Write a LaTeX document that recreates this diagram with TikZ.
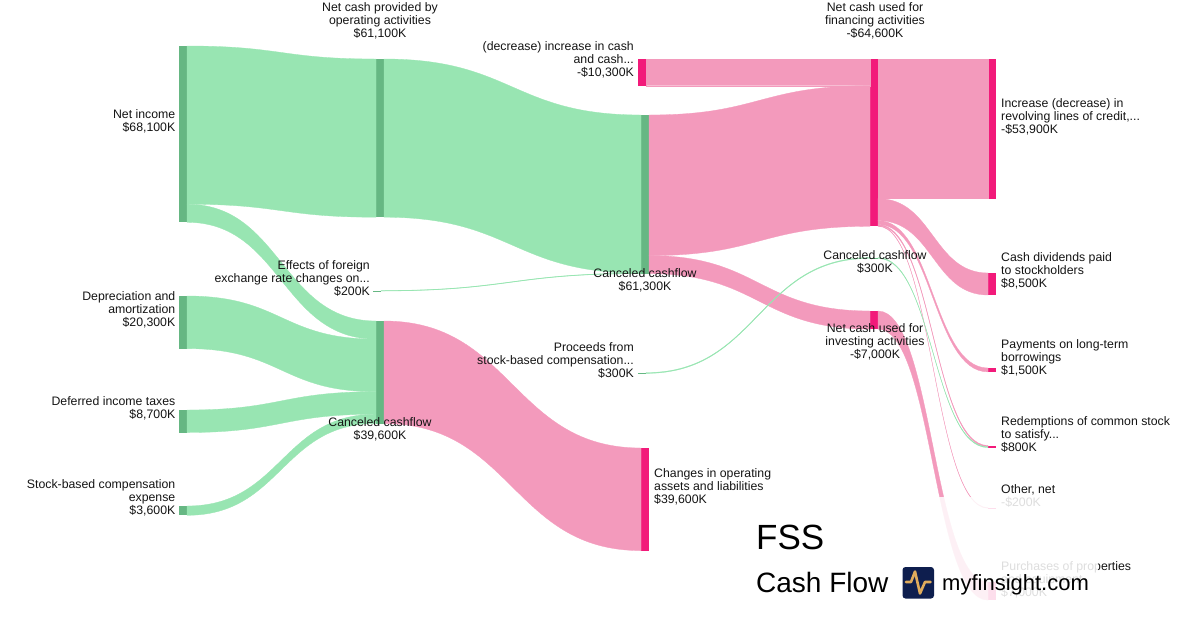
\documentclass[tikz,border=0pt]{standalone}
\usepackage{fontspec}
\setmainfont{Liberation Sans}
\usetikzlibrary{calc}
\definecolor{gflow}{RGB}{152,229,178}
\definecolor{gbar}{RGB}{102,183,131}
\definecolor{pflow}{RGB}{243,154,188}
\definecolor{pbar}{RGB}{242,26,122}
\definecolor{ink}{RGB}{20,20,20}
\definecolor{navy}{RGB}{14,30,78}
\definecolor{gold}{RGB}{224,172,92}
\newcommand{\labfont}{\fontsize{12.3}{13}\selectfont}
\newcommand{\fl}{\rule{0pt}{9.5pt}}
% band: #1 source node, #2 offset in source, #3 target node, #4 offset in target, #5 width, #6 style
\newcommand{\band}[6]{%
  \path ([yshift={-(#2)}]#1.north east) coordinate (bs0)
        ([yshift={-(#2)-(#5)}]#1.north east) coordinate (bs1)
        ([yshift={-(#4)}]#3.north west) coordinate (bt0)
        ([yshift={-(#4)-(#5)}]#3.north west) coordinate (bt1);
  \coordinate (bm) at ($(bs0)!0.5!(bt0)$);
  \filldraw[#6] (bs0) .. controls (bm |- bs0) and (bm |- bt0) .. (bt0)
     -- (bt1) .. controls (bm |- bt1) and (bm |- bs1) .. (bs1) -- cycle;
}
\begin{document}
\begin{tikzpicture}[x=1pt,y=-1pt,
  barbox/.style={rectangle, inner sep=0pt, outer sep=0pt, minimum width=8pt, anchor=north west},
  gb/.style={barbox, fill=gbar},
  pb/.style={barbox, fill=pbar},
  lab/.style={inner sep=0pt, font=\labfont, text=ink},
  labr/.style={lab, anchor=north east, align=right},
  labl/.style={lab, anchor=north west, align=left},
  labc/.style={lab, anchor=north, align=center},
  gf/.style={fill=gflow, draw=gflow, line width=0.3pt},
  pf/.style={fill=pflow, draw=pflow, line width=0.3pt}]
\useasboundingbox (0,0) rectangle (1200,630);

% ---- bars ----
\node[gb, minimum height=176.4pt] (ni)  at (179,46) {};
\node[gb, minimum height=52.6pt]  (dep) at (179,296) {};
\node[gb, minimum height=22.5pt]  (def) at (179,410) {};
\node[gb, minimum height=9.3pt]   (sbc) at (179,506) {};
\node[gb, minimum height=158.2pt] (op)  at (376,59) {};
\node[gb, minimum height=0.5pt]   (fx)  at (373,290.5) {};
\node[gb, minimum height=102.6pt] (c39) at (376,321) {};
\node[pb, minimum height=26.7pt]  (dec) at (638,59) {};
\node[gb, minimum height=158.8pt] (c61) at (641,115) {};
\node[gb, minimum height=0.8pt]   (proc) at (638,372.6) {};
\node[pb, minimum height=102.6pt] (chg) at (641,448) {};
\node[pb, minimum height=167.3pt] (fin) at (870,59) {};
\node[gb, minimum height=0.8pt]   (c300) at (870,257.6) {};
\node[pb, minimum height=18.1pt]  (inv) at (870,311) {};
\node[pb, minimum height=139.6pt] (rev) at (988,59) {};
\node[pb, minimum height=22pt]    (div) at (988,273) {};
\node[pb, minimum height=3.9pt]   (pay) at (988,368) {};
\node[pb, minimum height=2.1pt]   (red) at (988,445.5) {};
\node[pb, minimum height=0.5pt]   (oth) at (988,507.7) {};
\node[pb, minimum height=18.1pt]  (pur) at (988,582) {};

% ---- flows ----
\band{ni}{0}{op}{0}{158.2}{gf}
\band{ni}{158.2}{c39}{0}{18.1}{gf}
\band{dep}{0}{c39}{18.1}{52.6}{gf}
\band{def}{0}{c39}{70.7}{22.5}{gf}
\band{sbc}{0}{c39}{93.2}{9.3}{gf}
\band{op}{0}{c61}{0}{158.2}{gf}
\band{fx}{0}{c61}{158.2}{0.5}{gf}
\band{c39}{0}{chg}{0}{102.6}{pf}
\band{dec}{0}{fin}{0}{26.7}{pf}
\band{c61}{0}{fin}{26.7}{140.6}{pf}
\band{c61}{140.6}{inv}{0}{18.1}{pf}
\band{proc}{0}{c300}{0}{0.8}{gf}
\band{fin}{0}{rev}{0}{139.6}{pf}
\band{fin}{139.6}{div}{0}{22}{pf}
\band{fin}{161.6}{pay}{0}{3.9}{pf}
\band{fin}{165.5}{red}{0}{1.3}{pf}
\band{fin}{166.8}{oth}{0}{0.5}{pf}
\band{c300}{0}{red}{1.3}{0.8}{gf}
\band{inv}{0}{pur}{0}{18.1}{pf}

% ---- labels ----
\node[labc] (lop) at (380,1.7) {\fl Net cash provided by\\operating activities\\\$61,100K};
\node[labc] (lfin) at (875,1.7) {\fl Net cash used for\\financing activities\\-\$64,600K};
\node[labr] (ldec) at (634,41) {\fl (decrease) increase in cash\\and cash...\\-\$10,300K};
\node[labr] (lni) at (175.5,109) {\fl Net income\\\$68,100K};
\node[labr] (ldep) at (175.5,291) {\fl Depreciation and\\amortization\\\$20,300K};
\node[labr] (ldef) at (175.5,395.7) {\fl Deferred income taxes\\\$8,700K};
\node[labr] (lsbc) at (175.5,479) {\fl Stock-based compensation\\expense\\\$3,600K};
\node[labr] (lfx) at (370,260) {\fl Effects of foreign\\exchange rate changes on...\\\$200K};
\node[labc] (lc39) at (380,416.7) {\fl Canceled cashflow\\\$39,600K};
\node[labr] (lproc) at (634,341.7) {\fl Proceeds from\\stock-based compensation...\\\$300K};
\node[labc] (lc61) at (645,267.7) {\fl Canceled cashflow\\\$61,300K};
\node[labc] (lc300) at (875,249.7) {\fl Canceled cashflow\\\$300K};
\node[labc] (linv) at (875,322.7) {\fl Net cash used for\\investing activities\\-\$7,000K};
\node[labl] (lchg) at (654,468) {\fl Changes in operating\\assets and liabilities\\\$39,600K};
\node[labl] (lrev) at (1001,97.7) {\fl Increase (decrease) in\\revolving lines of credit,...\\-\$53,900K};
\node[labl] (ldiv) at (1001,252) {\fl Cash dividends paid\\to stockholders\\\$8,500K};
\node[labl] (lpay) at (1001,339) {\fl Payments on long-term\\borrowings\\\$1,500K};
\node[labl] (lred) at (1001,415.7) {\fl Redemptions of common stock\\to satisfy...\\\$800K};
\node[labl] (loth) at (1001,483.7) {\fl Other, net\\-\$200K};
\node[labl] (lpur) at (1001,560.7) {\fl Purchases of properties\\and equipment\\\$7,000K};

% ---- fade behind the title ----
\fill[white, opacity=0.86] (740,496.5) rectangle (1098,630);

% ---- title and logo ----
\node[anchor=base west, inner sep=0pt, font=\fontsize{35}{35}\selectfont, text=black] (title) at (756,549) {FSS};
\node[anchor=base west, inner sep=0pt, font=\fontsize{28}{28}\selectfont, text=black] (sub) at (756,592) {Cash Flow};
\fill[navy, rounded corners=3pt] (902.5,567) rectangle (934,598.5);
\draw[gold, line width=2.6pt, line cap=round, line join=round]
  (906,582) -- (911,582) -- (915,571.5) -- (920,593.5) -- (925,582) -- (930.5,582);
\node[anchor=base west, inner sep=0pt, font=\fontsize{22}{22}\selectfont, text=black] (site) at (942,590.5) {myfinsight.com};
\end{tikzpicture}
\end{document}
